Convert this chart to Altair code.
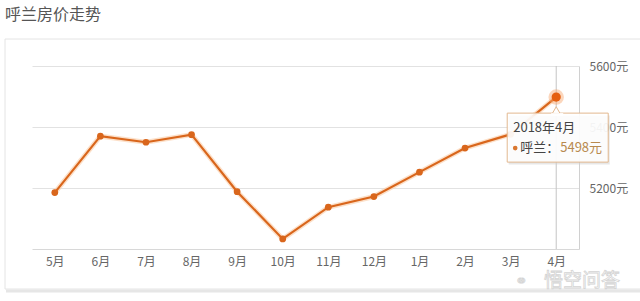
import altair as alt
import pandas as pd

months = ["5月", "6月", "7月", "8月", "9月", "10月", "11月", "12月", "1月", "2月", "3月", "4月"]
prices = [5185, 5370, 5350, 5375, 5188, 5033, 5137, 5172, 5252, 5331, 5376, 5498]
y_ticks = [5200, 5400, 5600]
title_text = "呼兰房价走势"
tip_date = "2018年4月"
tip_series = "呼兰："
tip_value = "5498元"
last_month = months[-1]

df = pd.DataFrame({"month": months, "price": prices})
FONT = "Noto Sans CJK SC"
LINE = "#d9661c"

xenc = alt.X("month:N", sort=months, scale=alt.Scale(type="point", padding=0.5),
             axis=alt.Axis(title=None, labelAngle=0, labelColor="#666", labelFontSize=12,
                           labelFont=FONT, labelFontWeight="normal", labelPadding=7, ticks=False,
                           domainColor="#d8d8d8", grid=False))
yenc = alt.Y("price:Q", scale=alt.Scale(domain=[5000, 5600], nice=False, zero=False),
             axis=alt.Axis(title=None, orient="right", values=y_ticks, labelExpr="datum.value + '元'",
                           labelColor="#666", labelFontSize=12, labelFont=FONT, labelFontWeight="normal",
                           labelPadding=10, ticks=False, domainColor="#d0d0d0", gridColor="#e2e2e2"))

base = alt.Chart(df)
last = base.transform_filter(alt.datum.month == last_month)

card_shadow = last.mark_rule(color="#e6e6e6", strokeWidth=3).encode(
    x=alt.value(-26), x2=alt.value(620), y=alt.value(225))
card = last.mark_rect(fillOpacity=0, stroke="#e4e4e4", strokeWidth=1).encode(
    x=alt.value(-27), x2=alt.value(620), y=alt.value(-27), y2=alt.value(223))

title = last.mark_text(align="left", baseline="middle", font=FONT, fontSize=16, fontWeight="normal",
                       color="#555").encode(
    x=alt.value(-27), y=alt.value(-51), text=alt.value(title_text))

watermark = last.mark_text(align="left", baseline="middle", font=FONT, fontSize=19,
                           fill="white", stroke="#d4d4d4", strokeWidth=0.8).encode(
    x=alt.value(512), y=alt.value(215), text=alt.value("悟空问答"))
wm_logo = last.mark_text(align="left", baseline="middle", font=FONT, fontSize=15, fill="white",
                         stroke="#d4d4d4", strokeWidth=0.8).encode(
    x=alt.value(483), y=alt.value(215), text=alt.value("⚭"))

cross = last.mark_rule(color="#c4c4c4", strokeWidth=1).encode(x=xenc)

glow = base.mark_line(color="#fbd3b2", strokeWidth=5, opacity=0.7).encode(x=xenc, y=yenc)
line = base.mark_line(color=LINE, strokeWidth=2.2).encode(x=xenc, y=yenc)
pts = base.mark_circle(color=LINE, size=45, opacity=1).encode(x=xenc, y=yenc)

halo = last.mark_circle(color="#f7a46a", size=240, opacity=0.45).encode(x=xenc, y=yenc)
big = last.mark_circle(color="#e55f10", size=85, opacity=1).encode(x=xenc, y=yenc)

tip_shadow = last.mark_rect(width=101, height=49, fill="#cfcfcf", opacity=0.5).encode(
    x=xenc, y=yenc, xOffset=alt.value(3), yOffset=alt.value(43))
tip_box = last.mark_rect(width=101, height=49, fill="white", fillOpacity=0.88, stroke="#e2b88f",
                         strokeWidth=1).encode(
    x=xenc, y=yenc, xOffset=alt.value(1.5), yOffset=alt.value(40.5))
tip_arrow = last.mark_point(shape="triangle-up", size=60, filled=True, fill="white", stroke="#e2b88f",
                            strokeWidth=1, opacity=1).encode(x=xenc, y=yenc, yOffset=alt.value(13))
tip_arrow_mask = last.mark_rect(width=12, height=3, fill="white").encode(
    x=xenc, y=yenc, xOffset=alt.value(1), yOffset=alt.value(17.5))

tip_t1 = last.mark_text(align="left", baseline="middle", font=FONT, fontSize=13, fontWeight="normal",
                        color="#444").encode(
    x=xenc, y=yenc, xOffset=alt.value(-43), yOffset=alt.value(31), text=alt.value(tip_date))
tip_dot = last.mark_circle(color="#d9772f", size=22, opacity=1).encode(
    x=xenc, y=yenc, xOffset=alt.value(-41), yOffset=alt.value(51))
tip_t2 = last.mark_text(align="left", baseline="middle", font=FONT, fontSize=13, fontWeight="normal",
                        color="#444").encode(
    x=xenc, y=yenc, xOffset=alt.value(-36), yOffset=alt.value(51), text=alt.value(tip_series))
tip_t3 = last.mark_text(align="left", baseline="middle", font=FONT, fontSize=13, fontWeight="normal",
                        color="#b88a4f").encode(
    x=xenc, y=yenc, xOffset=alt.value(4), yOffset=alt.value(51), text=alt.value(tip_value))

chart = alt.layer(
    card_shadow, card, title, watermark, wm_logo, cross, glow, line, pts, halo, big,
    tip_shadow, tip_box, tip_arrow, tip_arrow_mask, tip_t1, tip_dot, tip_t2, tip_t3
).properties(
    width=547, height=183,
    background="white",
    autosize=alt.AutoSizeParams(type="none"),
    padding={"left": 32, "top": 66, "right": 61, "bottom": 52},
).configure_view(stroke=None)

chart.save("out.html", embed_options={"renderer": "svg", "actions": False})
